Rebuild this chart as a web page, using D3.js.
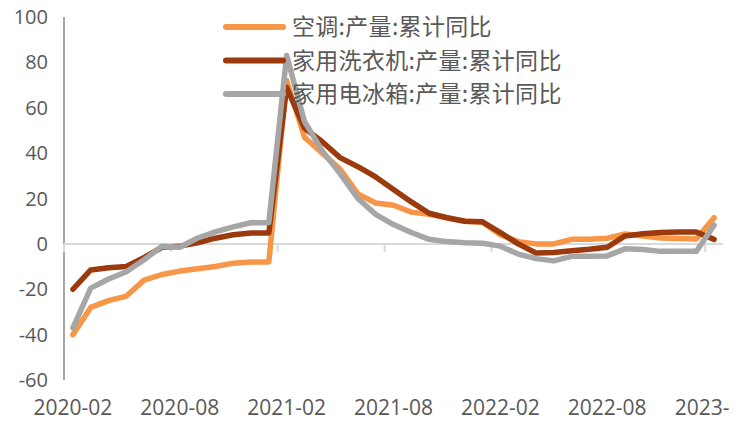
<!DOCTYPE html>
<html>
<head>
<meta charset="utf-8">
<script src="https://cdn.jsdelivr.net/npm/d3@7"></script>
<style>
  html, body { margin: 0; padding: 0; background: #fff; }
  svg { display: block; }
</style>
</head>
<body>
<script>
// months on the category axis
const months = [
  "2020-02", "2020-03", "2020-04", "2020-05", "2020-06", "2020-07", "2020-08", "2020-09",
  "2020-10", "2020-11", "2020-12", "2021-01", "2021-02", "2021-03", "2021-04", "2021-05",
  "2021-06", "2021-07", "2021-08", "2021-09", "2021-10", "2021-11", "2021-12", "2022-01",
  "2022-02", "2022-03", "2022-04", "2022-05", "2022-06", "2022-07", "2022-08", "2022-09",
  "2022-10", "2022-11", "2022-12", "2023-01", "2023-02"
];

// 空调 cumulative yoy
const airCon = [
  -40, -28, -25, -23, -16, -13.5, -12, -11, -10, -8.5, -8, -8,
  72, 47, 40, 33, 22, 18, 17, 14, 13, 11.5, 10, 9.5,
  4, 1, 0, 0, 2, 2, 2.5, 4.4, 3.5, 2.6, 2.4, 2.2, 11.5
];
// 家用洗衣机
const washer = [
  -20, -11.5, -10.5, -10, -6, -1.5, -1, 0.5, 2.5, 4, 4.8, 4.8,
  69, 51, 45, 38, 34, 29.5, 24, 18.5, 13.5, 11.5, 10, 9.7,
  5, 0, -4, -3.8, -3, -2.4, -1.5, 3.5, 4.5, 5, 5.2, 5.2, 2
];
// 家用电冰箱
const fridge = [
  -37, -19.5, -15.5, -12.3, -7, -1, -1.5, 2.6, 5.3, 7.5, 9.3, 9.3,
  83, 54, 41, 31, 20, 13, 8.5, 5, 2, 1, 0.5, 0.3,
  -1, -4.5, -6.5, -7.5, -5.5, -5.5, -5.3, -2.2, -2.5, -3.3, -3.3, -3.3, 8.2
];

const seriesNames = ["空调:产量:累计同比", "家用洗衣机:产量:累计同比", "家用电冰箱:产量:累计同比"];
const seriesColors = ["#F79646", "#9B3A0C", "#A6A6A6"];
const yTicks = [100, 80, 60, 40, 20, 0, -20, -40, -60];

const width = 741, height = 421;

const svg = d3.select("body").append("svg")
  .attr("width", width)
  .attr("height", height);

// the chart object ends a little short of the window edge, which cuts the last label
svg.append("defs").append("clipPath")
  .attr("id", "chart-clip")
  .append("rect")
    .attr("x", 0).attr("y", 0)
    .attr("width", 729).attr("height", height);

const x = d3.scaleBand()
  .domain(months)
  .range([64, 723])
  .padding(0);
const y = d3.scaleLinear()
  .domain([-60, 100])
  .range([380, 17]);

const cx = m => x(m) + x.bandwidth() / 2;

// y axis: labels only plus a plain vertical line
svg.append("g")
  .selectAll("text")
  .data(yTicks)
  .join("text")
    .attr("x", 48)
    .attr("y", d => y(d))
    .attr("dy", "0.35em")
    .attr("text-anchor", "end")
    .attr("font-family", "'Open Sans', sans-serif")
    .attr("font-size", 20)
    .attr("fill", "#595959")
    .text(d => d);

svg.append("line")
  .attr("x1", 64).attr("x2", 64)
  .attr("y1", y(100)).attr("y2", y(-60))
  .attr("stroke", "#A6A6A6")
  .attr("stroke-width", 2);

// zero line with category ticks every 6 months
svg.append("line")
  .attr("x1", 64).attr("x2", 723)
  .attr("y1", y(0)).attr("y2", y(0))
  .attr("stroke", "#D9D9D9")
  .attr("stroke-width", 2);

const labelled = months.filter((m, i) => i % 6 === 0);
svg.append("g")
  .selectAll("line")
  .data(labelled)
  .join("line")
    .attr("x1", d => x(d)).attr("x2", d => x(d))
    .attr("y1", y(0)).attr("y2", y(0) + 8)
    .attr("stroke", "#D9D9D9")
    .attr("stroke-width", 2);

svg.append("g")
  .attr("clip-path", "url(#chart-clip)")
  .selectAll("text")
  .data(labelled)
  .join("text")
    .attr("x", d => cx(d))
    .attr("y", 408)
    .attr("dy", "0.35em")
    .attr("text-anchor", "middle")
    .attr("font-family", "'Open Sans', sans-serif")
    .attr("font-size", 21)
    .attr("fill", "#595959")
    .text(d => d);

// series lines
const line = d3.line()
  .x((d, i) => cx(months[i]))
  .y(d => y(d));

svg.append("g")
  .selectAll("path")
  .data([airCon, washer, fridge])
  .join("path")
    .attr("d", d => line(d))
    .attr("fill", "none")
    .attr("stroke", (d, i) => seriesColors[i])
    .attr("stroke-width", 5.5)
    .attr("stroke-linejoin", "round")
    .attr("stroke-linecap", "round");

// legend
const legend = svg.append("g")
  .selectAll("g")
  .data(seriesNames)
  .join("g")
    .attr("transform", (d, i) => `translate(226,${27 + i * 33.5})`);
legend.append("line")
  .attr("x1", 0).attr("x2", 57)
  .attr("stroke", (d, i) => seriesColors[i])
  .attr("stroke-width", 6)
  .attr("stroke-linecap", "round");
legend.append("text")
  .attr("x", 66)
  .attr("dy", "0.35em")
  .attr("font-family", "'Noto Sans CJK SC', sans-serif")
  .attr("font-size", 23)
  .attr("letter-spacing", 0.3)
  .attr("fill", "#595959")
  .text(d => d);
</script>
</body>
</html>
